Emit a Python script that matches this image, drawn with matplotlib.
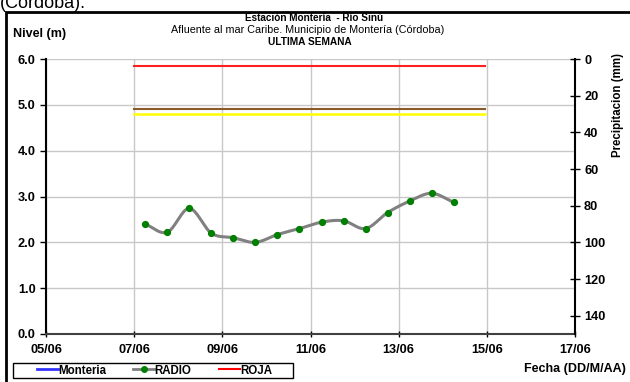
import numpy as np
import matplotlib
matplotlib.use("Agg")
import matplotlib.pyplot as plt
from matplotlib.patches import Rectangle
from matplotlib.lines import Line2D

# Level readings (m), every 12 h starting 07/06 06:00 (day-of-June)
radio_days = [7.25, 7.75, 8.25, 8.75, 9.25, 9.75, 10.25, 10.75,
              11.25, 11.75, 12.25, 12.75, 13.25, 13.75, 14.25]
radio_level = [2.40, 2.22, 2.74, 2.20, 2.10, 2.00, 2.17, 2.30,
               2.44, 2.47, 2.30, 2.65, 2.90, 3.07, 2.87]

# Alert thresholds (m) and the period they cover
alert_start, alert_end = 7.0, 14.95
roja_level = 5.85
naranja_level = 4.90
amarilla_level = 4.80

x_ticks = [5, 7, 9, 11, 13, 15, 17]
x_labels = ["05/06", "07/06", "09/06", "11/06", "13/06", "15/06", "17/06"]
y_ticks = [0, 1, 2, 3, 4, 5, 6]
rain_ticks = [0, 20, 40, 60, 80, 100, 120, 140]


def catmull_rom(x, y, n=20):
    x = np.asarray(x, float)
    y = np.asarray(y, float)
    px = np.concatenate([[2 * x[0] - x[1]], x, [2 * x[-1] - x[-2]]])
    py = np.concatenate([[2 * y[0] - y[1]], y, [2 * y[-1] - y[-2]]])
    xs, ys = [], []
    t = np.linspace(0, 1, n, endpoint=False)
    for i in range(1, len(px) - 2):
        p0, p1, p2, p3 = (np.array([px[j], py[j]]) for j in range(i - 1, i + 3))
        pts = 0.5 * ((2 * p1)[:, None] + (-p0 + p2)[:, None] * t
                     + (2 * p0 - 5 * p1 + 4 * p2 - p3)[:, None] * t ** 2
                     + (-p0 + 3 * p1 - 3 * p2 + p3)[:, None] * t ** 3)
        xs.extend(pts[0]); ys.extend(pts[1])
    xs.append(x[-1]); ys.append(y[-1])
    return np.array(xs), np.array(ys)


W, H = 630, 382
plt.rcParams["font.family"] = ["Liberation Sans", "DejaVu Sans"]
fig = plt.figure(figsize=(W / 100, H / 100), dpi=100)
fig.patch.set_facecolor("white")


def fx(px):
    return px / W


def fy(py):
    return 1 - py / H


# outer frame of the chart area
fig.add_artist(Rectangle((fx(6), -0.1), 1.2, fy(12) + 0.1,
                         transform=fig.transFigure, fill=False,
                         edgecolor="black", linewidth=2.0))
fig.text(fx(0), fy(8), "(Córdoba).", fontsize=13, ha="left",
         va="baseline", color="black")

ax = fig.add_axes([fx(46), fy(334), (575 - 46) / W, (334 - 59) / H])
ax.set_xlim(5, 17)
ax.set_ylim(0, 6)
ax.set_xticks(x_ticks)
ax.set_xticklabels(x_labels)
ax.set_yticks(y_ticks)
ax.set_yticklabels([f"{v:.1f}" for v in y_ticks])
for lab in ax.get_xticklabels() + ax.get_yticklabels():
    lab.set_fontweight("bold")
    lab.set_fontsize(9.2)
ax.grid(True, color="#c8c8c8", linewidth=1.0)
ax.set_axisbelow(True)
ax.tick_params(axis="y", direction="out", length=4.3, width=1, pad=3)
ax.tick_params(axis="x", direction="inout", length=5, width=1, pad=4.5)
for s in ("top", "right"):
    ax.spines[s].set_visible(False)
ax.spines["left"].set_linewidth(1.5)
ax.spines["left"].set_color("black")
ax.spines["bottom"].set_linewidth(1.5)
ax.spines["bottom"].set_color("#404040")

# alert thresholds
ax.plot([alert_start, alert_end], [roja_level] * 2, color="#ff2020", lw=1.5)
ax.plot([alert_start, alert_end], [naranja_level] * 2, color="#8b5a2b", lw=1.5)
ax.plot([alert_start, alert_end], [amarilla_level] * 2, color="#ffff00", lw=1.8)

# smoothed level curve with markers
sx, sy = catmull_rom(radio_days, radio_level)
ax.plot(sx, sy, color="#808080", lw=2.2, zorder=3)
ax.plot(radio_days, radio_level, "o", color="#008000", ms=4.2, zorder=4)

# secondary precipitation axis (inverted)
ax2 = ax.twinx()
ax2.set_ylim(150, 0)
ax2.set_yticks(rain_ticks)
ax2.set_yticklabels([str(v) for v in rain_ticks])
for lab in ax2.get_yticklabels():
    lab.set_fontweight("bold")
    lab.set_fontsize(9.2)
ax2.tick_params(axis="y", direction="inout", length=7, width=1, pad=3)
for s in ("top", "left", "bottom"):
    ax2.spines[s].set_visible(False)
ax2.spines["right"].set_linewidth(1.5)
ax2.spines["right"].set_color("black")

# titles and axis captions
fig.text(fx(314), fy(18), "Estación Montería  - Río Sinú",
         ha="center", va="center", fontsize=7.2, fontweight="bold")
fig.text(fx(308), fy(30),
         "Afluente al mar Caribe. Municipio de Montería (Córdoba)",
         ha="center", va="center", fontsize=7.75)
fig.text(fx(310), fy(42), "ULTIMA SEMANA",
         ha="center", va="center", fontsize=7.3, fontweight="bold")
fig.text(fx(13), fy(34), "Nivel (m)", ha="left", va="center",
         fontsize=9, fontweight="bold")
fig.text(fx(618), fy(105), "Precipitacion (mm)", ha="center",
         va="center", rotation=90, fontsize=8.3, fontweight="bold")
fig.text(fx(626), fy(369), "Fecha (DD/M/AA)", ha="right",
         va="center", fontsize=9, fontweight="bold")

# legend
handles = [
    Line2D([], [], color="#3333ff", lw=2),
    Line2D([], [], color="#808080", lw=2, marker="o", ms=4,
           markerfacecolor="#008000", markeredgecolor="#008000"),
    Line2D([], [], color="#ff0000", lw=1.5),
]
leg = fig.legend(handles, ["Monteria", "RADIO", "ROJA"], ncol=3,
                 loc="center left", bbox_to_anchor=(fx(37), fy(370.5)),
                 frameon=False, prop={"weight": "bold", "size": 8.3},
                 handlelength=1.85, handletextpad=0.0, columnspacing=2.35,
                 borderpad=0.0, borderaxespad=0.0)
fig.add_artist(Rectangle((fx(13), fy(378)), (293 - 13) / W, (378 - 363) / H,
                         transform=fig.transFigure, fill=False,
                         edgecolor="black", linewidth=1.0))

fig.savefig("out.png", dpi=100, facecolor="white")
